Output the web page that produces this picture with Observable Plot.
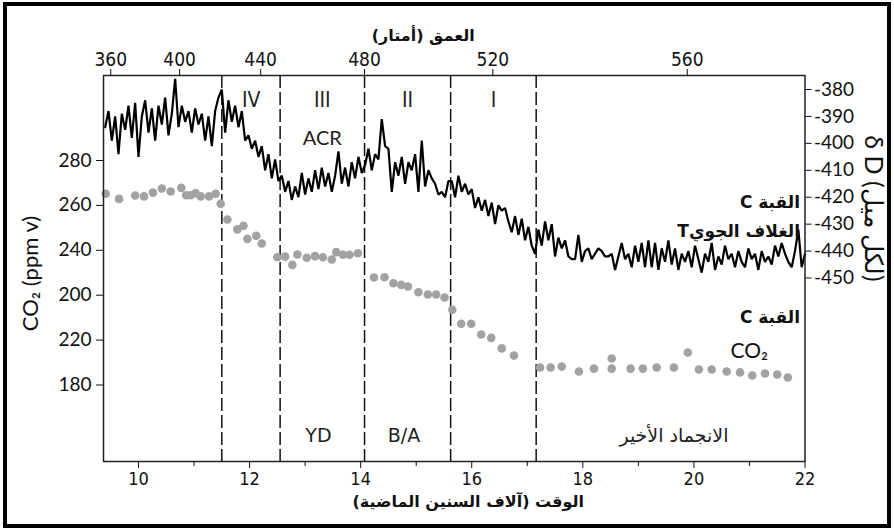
<!DOCTYPE html>
<html><head><meta charset="utf-8">
<script src="https://cdn.jsdelivr.net/npm/d3@7"></script>
<script src="https://cdn.jsdelivr.net/npm/@observablehq/plot@0.6"></script>
<style>
html,body{margin:0;padding:0;background:#fff;}
#wrap{position:relative;width:894px;height:530px;overflow:hidden;background:#fff;}
#border{position:absolute;left:3px;top:2px;width:888px;height:526px;border:4px solid #000;box-sizing:border-box;pointer-events:none;}
</style></head>
<body><div id="wrap"><div id="chart"></div><div id="border"></div></div>
<script>
// ---- data ----
const co2Age = [9.41,9.65,9.94,10.10,10.26,10.42,10.58,10.77,10.86,10.94,11.03,11.12,11.27,11.39,11.48,11.60,11.78,11.89,11.96,12.12,12.22,12.50,12.64,12.77,12.86,13.03,13.18,13.32,13.48,13.56,13.68,13.80,13.95,14.24,14.43,14.59,14.73,14.85,15.04,15.21,15.36,15.51,15.65,15.81,15.99,16.17,16.35,16.54,16.76,17.23,17.42,17.62,17.93,18.20,18.52,18.52,18.86,19.08,19.33,19.64,19.89,20.09,20.32,20.59,20.83,21.05,21.28,21.50,21.69];
const co2Value = [265.2,262.9,264.4,264.0,265.7,267.5,266.2,267.8,264.5,264.5,265.4,264.0,264.0,265.2,260.7,253.7,249.3,250.9,245.1,246.5,243.0,236.9,237.2,233.5,238.1,236.7,237.4,236.9,235.9,239.2,238.0,238.0,238.7,227.9,228.0,225.3,224.6,223.9,221.3,220.3,220.3,219.0,213.5,207.3,207.3,202.5,201.0,196.3,193.1,187.8,187.8,188.2,186.0,187.3,187.3,191.8,187.3,187.3,187.8,187.8,194.5,186.9,186.9,186.0,185.6,184.2,185.1,184.7,183.3];

const dDAge = [9.40,9.46,9.52,9.58,9.64,9.70,9.76,9.82,9.88,9.94,
10.00,10.06,10.12,10.18,10.24,10.30,10.36,10.42,10.48,10.54,
10.60,10.66,10.72,10.78,10.84,10.90,10.96,11.02,11.08,11.14,
11.20,11.26,11.32,11.38,11.44,11.50,11.56,11.62,11.68,11.74,
11.80,11.86,11.92,11.98,12.04,12.10,12.16,12.22,12.28,12.34,
12.40,12.46,12.52,12.58,12.64,12.70,12.76,12.82,12.88,12.94,
13.00,13.06,13.12,13.18,13.24,13.30,13.36,13.42,13.48,13.54,
13.60,13.66,13.72,13.78,13.84,13.90,13.96,14.02,14.08,14.14,
14.20,14.26,14.32,14.38,14.44,14.50,14.56,14.62,14.68,14.74,
14.80,14.86,14.92,14.98,15.04,15.10,15.16,15.22,15.28,15.34,
15.40,15.46,15.52,15.58,15.64,15.70,15.76,15.82,15.88,15.94,
16.00,16.06,16.12,16.18,16.24,16.30,16.36,16.42,16.48,16.54,
16.60,16.66,16.72,16.78,16.84,16.90,16.96,17.02,17.08,17.14,
17.20,17.26,17.32,17.38,17.44,17.50,17.56,17.62,17.68,17.74,
17.80,17.86,17.92,17.98,18.04,18.10,18.16,18.22,18.28,18.34,
18.40,18.46,18.52,18.58,18.64,18.70,18.76,18.82,18.88,18.94,
19.00,19.06,19.12,19.18,19.24,19.30,19.36,19.42,19.48,19.54,
19.60,19.66,19.72,19.78,19.84,19.90,19.96,20.02,20.08,20.14,
20.20,20.26,20.32,20.38,20.44,20.50,20.56,20.62,20.68,20.74,
20.80,20.86,20.92,20.98,21.04,21.10,21.16,21.22,21.28,21.34,
21.40,21.46,21.52,21.58,21.64,21.70,21.76,21.82,21.88,21.94,
22.00];
const dDValue = [-394,-388,-399,-390,-404,-389,-395,-386,-398,-385,
-405,-390,-384,-396,-387,-399,-386,-393,-383,-397,
-389,-376,-394,-386,-392,-388,-396,-387,-393,-389,
-399,-390,-401,-388,-383,-380,-396,-384,-392,-386,
-394,-388,-399,-397,-402,-399,-405,-401,-410,-404,
-413,-406,-414,-412,-418,-414,-421,-416,-420,-411,
-419,-413,-418,-410,-417,-409,-416,-411,-418,-412,
-403,-415,-409,-416,-407,-413,-405,-411,-408,-402,
-410,-404,-406,-391,-401,-402,-418,-407,-412,-405,
-415,-407,-410,-404,-418,-399,-416,-410,-413,-415,
-419,-418,-420,-414,-414,-420,-412,-418,-415,-419,
-417,-424,-420,-425,-421,-427,-422,-430,-423,-425,
-424,-429,-433,-427,-434,-428,-436,-431,-438,-441,
-432,-438,-429,-436,-430,-442,-435,-439,-436,-442,
-443,-443,-434,-444,-440,-439,-443,-441,-439,-440,
-442,-442,-441,-447,-442,-437,-443,-441,-446,-438,
-444,-437,-446,-436,-446,-437,-447,-439,-444,-436,
-445,-439,-447,-441,-444,-440,-446,-438,-443,-448,
-441,-444,-437,-447,-442,-445,-438,-443,-441,-446,
-440,-444,-446,-439,-443,-441,-447,-440,-444,-442,
-445,-438,-442,-437,-441,-444,-446,-440,-432,-446,
-441];

const phaseBoundaries = [11.5, 12.55, 14.07, 15.62, 17.16];
const phaseTopLabels = ["IV", "III", "II", "I"];
const phaseTopAges = [12.03, 13.31, 14.845, 16.39];
const phaseBottomLabels = ["YD", "B/A", "الانجماد الأخير"];
const phaseBottomAges = [13.24, 14.78, 19.64];

const ageTicks = [10, 12, 14, 16, 18, 20, 22];
const ageTickLabels = ["10", "12", "14", "16", "18", "20", "22"];
const ageMinorTicks = [11, 13, 15, 17, 19, 21];
const depthTickLabels = ["360", "400", "440", "480", "520", "560"];
const depthTickAges = [9.50, 10.74, 12.20, 14.07, 16.38, 19.88];
const co2Ticks = [280, 260, 240, 220, 200, 180];
const co2TickLabels = ["280", "260", "240", "200", "220", "180"];
const dDTicks = [-380, -390, -400, -410, -420, -430, -440, -450];
const dDTickLabels = ["-380", "-390", "-400", "-410", "-420", "-430", "-440", "-450"];

const titleTop = "العمق (أمتار)";
const titleBottom = "الوقت (آلاف السنين الماضية)";
const titleLeft = "CO₂ (ppm v)";
const titleRight = "δ D (لكل ميل)";
const labelDomeT1 = "القبة C";
const labelDomeT2 = "الغلاف الجويT";
const labelDomeC1 = "القبة C";
const labelDomeC2 = "CO₂";

// ---- scales ----
const co2Domain = [145.92, 317.86];
const dDDomain = [-518.14, -374.80];
const toCO2 = d3.scaleLinear().domain(dDDomain).range(co2Domain);

const rtl = s => "\u202B" + s + "\u202C";
const narrow = "'Liberation Sans Narrow', 'DejaVu Sans Condensed', 'Arial Narrow', sans-serif";
const arabic = "'DejaVu Sans', sans-serif";
const optima = "Lato, 'Open Sans', sans-serif";

const co2Data = co2Age.map((a, i) => ({age: a, v: co2Value[i]}));
const dDData = dDAge.map((a, i) => ({age: a, v: toCO2(dDValue[i])}));
const co2Lab = new Map(co2Ticks.map((t, i) => [t, co2TickLabels[i]]));
const dDPos = dDTicks.map(toCO2);
const dDLab = new Map(dDPos.map((t, i) => [t, dDTickLabels[i]]));
const ageLab = new Map(ageTicks.map((t, i) => [t, ageTickLabels[i]]));
const depLab = new Map(depthTickAges.map((t, i) => [t, depthTickLabels[i]]));

const chart = Plot.plot({
  width: 894, height: 530,
  marginLeft: 103, marginRight: 89.5, marginTop: 75, marginBottom: 69,
  x: {domain: [9.37, 22]},
  y: {domain: co2Domain},
  style: {background: "transparent", color: "#111"},
  marks: [
    Plot.ruleX(phaseBoundaries, {stroke: "#111", strokeWidth: 1.5, strokeDasharray: "13,4"}),
    Plot.dot(co2Data, {x: "age", y: "v", r: 4.3, fill: "#a2a2a2", stroke: "none"}),
    Plot.line(dDData, {x: "age", y: "v", stroke: "#000", strokeWidth: 2.2, strokeLinejoin: "miter"}),
    Plot.frame({stroke: "#222", strokeWidth: 1.5}),
    Plot.axisY(co2Ticks, {anchor: "left", tickSize: 7, tickPadding: 5, tickFormat: d => co2Lab.get(d), label: null, fontSize: 19, fontFamily: optima}),
    Plot.axisY(dDPos, {anchor: "right", tickSize: 6, tickPadding: 3, tickFormat: d => dDLab.get(d), label: null, fontSize: 19, fontFamily: optima}),
    Plot.axisX(ageTicks, {anchor: "bottom", tickSize: 7, tickPadding: 4, tickFormat: d => ageLab.get(d), label: null, fontSize: 18, fontFamily: narrow}),
    Plot.axisX(ageMinorTicks, {anchor: "bottom", tickSize: 5, tickFormat: () => "", label: null}),
    Plot.axisX(depthTickAges, {anchor: "top", tickSize: 7, tickPadding: 3, tickFormat: d => depLab.get(d), label: null, fontSize: 19, fontFamily: narrow}),
    Plot.text(phaseTopLabels, {x: (d, i) => phaseTopAges[i], frameAnchor: "top", dy: 17, fontSize: 21, fontFamily: narrow, fill: "#222"}),
    Plot.text(["ACR"], {x: [phaseTopAges[1]], frameAnchor: "top", dy: 55, fontSize: 20, fontFamily: optima, fill: "#222"}),
    Plot.text(phaseBottomLabels, {x: (d, i) => phaseBottomAges[i], frameAnchor: "bottom", dy: -20, fontSize: 19, fontFamily: "'Liberation Sans Narrow', 'DejaVu Sans', sans-serif", fill: "#222", text: d => rtl(d)}),
    Plot.text([titleTop], {frameAnchor: "top", textAnchor: "middle", dx: -31, dy: -46, fontSize: 16, fontFamily: arabic, fontWeight: "bold", text: d => rtl(d), fill: "#111"}),
    Plot.text([titleBottom], {frameAnchor: "bottom", textAnchor: "middle", dx: 14, dy: 45, fontSize: 16, fontFamily: arabic, fontWeight: "bold", text: d => rtl(d), fill: "#111"}),
    Plot.text([titleLeft], {frameAnchor: "left", textAnchor: "middle", dx: -73, dy: 5, rotate: -90, fontSize: 22, fontFamily: optima, fill: "#111"}),
    Plot.text([titleRight], {frameAnchor: "right", textAnchor: "middle", dx: 68, dy: -60, rotate: 90, fontSize: 25, fontFamily: optima, fill: "#111"}),
    Plot.text([labelDomeT1], {frameAnchor: "top-right", dx: -5, dy: 120, textAnchor: "end", fontSize: 17, fontWeight: "bold", fontFamily: arabic, text: d => rtl(d), fill: "#111"}),
    Plot.text([labelDomeT2], {frameAnchor: "top-right", dx: -5, dy: 149, textAnchor: "end", fontSize: 17, fontWeight: "bold", fontFamily: arabic, text: d => rtl(d), fill: "#111"}),
    Plot.text([labelDomeC1], {frameAnchor: "top-right", dx: -5, dy: 235, textAnchor: "end", fontSize: 17, fontWeight: "bold", fontFamily: arabic, text: d => rtl(d), fill: "#111"}),
    Plot.text([labelDomeC2], {frameAnchor: "top-right", dx: -37, dy: 268, textAnchor: "end", fontSize: 21, fontFamily: optima, fill: "#111"})
  ]
});
document.getElementById("chart").appendChild(chart);
</script>
</body></html>
